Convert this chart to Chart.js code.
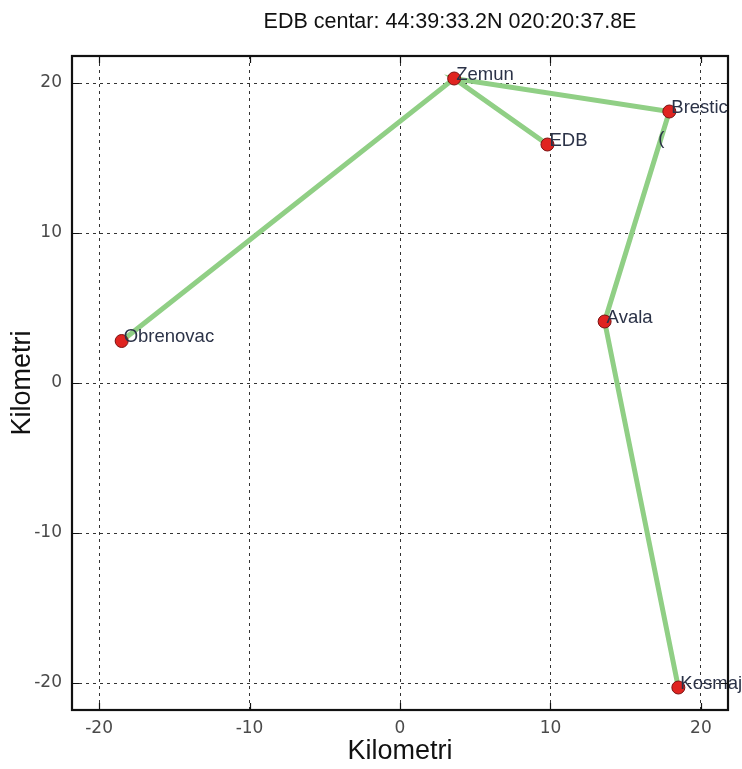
<!DOCTYPE html>
<html>
<head>
<meta charset="utf-8">
<script src="https://cdn.jsdelivr.net/npm/chart.js@4/dist/chart.umd.min.js"></script>
<style>
  html, body { margin: 0; padding: 0; background: #ffffff; }
  #wrap { width: 742px; height: 769px; position: relative; }
</style>
</head>
<body>
<div id="wrap"><canvas id="c" width="742" height="769"></canvas></div>
<script>
// ---- data ----
const stationNames = ["Zemun", "Brestic", "EDB", "Obrenovac", "Avala", "Kosmaj"];
const stationX = [3.6, 17.9, 9.8, -18.5, 13.6, 18.5];
const stationY = [20.3, 18.1, 15.9, 2.8, 4.1, -20.3];
// links drawn as one path through the stations
const routeOrder = ["Obrenovac", "Zemun", "EDB", "Zemun", "Brestic", "Avala", "Kosmaj"];
const tickValues = [-20, -10, 0, 10, 20];
const axisMin = -21.8;
const axisMax = 21.8;
const titleText = "EDB centar: 44:39:33.2N 020:20:37.8E";
const axisLabel = "Kilometri";

const stationPoints = stationNames.map((n, i) => ({ x: stationX[i], y: stationY[i], name: n }));
const routePoints = routeOrder.map(n => {
  const i = stationNames.indexOf(n);
  return { x: stationX[i], y: stationY[i] };
});

const setTicks = (scale) => { scale.ticks = tickValues.map(v => ({ value: v })); };

// the reference title sits right of the plot centre (figure-level title)
const titleShift = {
  id: 'titleShift',
  afterLayout(chart) {
    if (chart.titleBlock) { chart.titleBlock.left = 172; }
  }
};

const framePlugin = {
  id: 'frame',
  afterDatasetsDraw(chart) {
    const { ctx, chartArea: a, scales } = chart;
    ctx.save();
    // labels
    ctx.font = '18.5px "Liberation Sans", Arial, sans-serif';
    ctx.fillStyle = '#2b3247';
    ctx.textAlign = 'left';
    ctx.textBaseline = 'alphabetic';
    stationPoints.forEach(p => {
      const px = scales.x.getPixelForValue(p.x);
      const py = scales.y.getPixelForValue(p.y);
      ctx.fillText(p.name, px + 2, py + 1);
    });
    // small stray glyph under Brestic
    const bi = stationNames.indexOf("Brestic");
    ctx.textAlign = 'center';
    ctx.textBaseline = 'middle';
    ctx.fillText("(", scales.x.getPixelForValue(stationX[bi]) - 8, scales.y.getPixelForValue(stationY[bi]) + 27);
    // inward ticks
    ctx.strokeStyle = '#111';
    ctx.lineWidth = 1.2;
    ctx.beginPath();
    tickValues.forEach(v => {
      const x = Math.round(scales.x.getPixelForValue(v)) + 0.5;
      ctx.moveTo(x, a.bottom); ctx.lineTo(x, a.bottom - 7);
      ctx.moveTo(x, a.top); ctx.lineTo(x, a.top + 7);
      const y = Math.round(scales.y.getPixelForValue(v)) + 0.5;
      ctx.moveTo(a.left, y); ctx.lineTo(a.left + 7, y);
      ctx.moveTo(a.right, y); ctx.lineTo(a.right - 7, y);
    });
    ctx.stroke();
    // frame
    ctx.lineWidth = 2.2;
    ctx.strokeStyle = '#111';
    ctx.strokeRect(a.left, a.top, a.right - a.left, a.bottom - a.top);
    ctx.restore();
  }
};

new Chart(document.getElementById('c'), {
  type: 'scatter',
  data: {
    datasets: [
      {
        label: 'veze',
        data: routePoints,
        showLine: true,
        borderColor: '#90cf85',
        borderWidth: 5,
        pointRadius: 0,
        pointHoverRadius: 0,
        fill: false,
        order: 2
      },
      {
        label: 'stanice',
        data: stationPoints,
        showLine: false,
        backgroundColor: '#e02420',
        borderColor: '#7a1010',
        borderWidth: 1,
        pointRadius: 6.5,
        order: 1
      }
    ]
  },
  options: {
    responsive: false,
    animation: false,
    layout: { padding: { left: 0, right: 14, top: 0, bottom: 0 } },
    plugins: {
      legend: { display: false },
      tooltip: { enabled: false },
      title: {
        display: true,
        text: titleText,
        color: '#111',
        font: { family: '"Liberation Sans", Arial, sans-serif', size: 21.5, weight: 'normal', lineHeight: 1.2 },
        padding: { top: 9.5, bottom: 20.7 }
      }
    },
    scales: {
      x: {
        type: 'linear',
        min: axisMin, max: axisMax,
        afterBuildTicks: setTicks,
        afterFit: (s) => { s.height = 59; },
        grid: { color: '#333', lineWidth: 1, drawTicks: false },
        border: { display: false, dash: [3, 4] },
        ticks: {
          color: '#4a4a4a', padding: 8,
          font: { family: '"DejaVu Sans", sans-serif', size: 17 }
        },
        title: {
          display: true, text: axisLabel, color: '#111',
          font: { family: '"Liberation Sans", Arial, sans-serif', size: 27, lineHeight: 1.2 },
          padding: { top: 0, bottom: 1 }
        }
      },
      y: {
        type: 'linear',
        min: axisMin, max: axisMax,
        afterBuildTicks: setTicks,
        afterFit: (s) => { s.width = 72; },
        grid: { color: '#333', lineWidth: 1, drawTicks: false },
        border: { display: false, dash: [3, 4] },
        ticks: {
          color: '#4a4a4a', padding: 10,
          font: { family: '"DejaVu Sans", sans-serif', size: 17 }
        },
        title: {
          display: true, text: axisLabel, color: '#111',
          font: { family: '"Liberation Sans", Arial, sans-serif', size: 27, lineHeight: 1.2 },
          padding: { top: 6, bottom: 0 }
        }
      }
    }
  },
  plugins: [framePlugin, titleShift]
});
</script>
</body>
</html>
